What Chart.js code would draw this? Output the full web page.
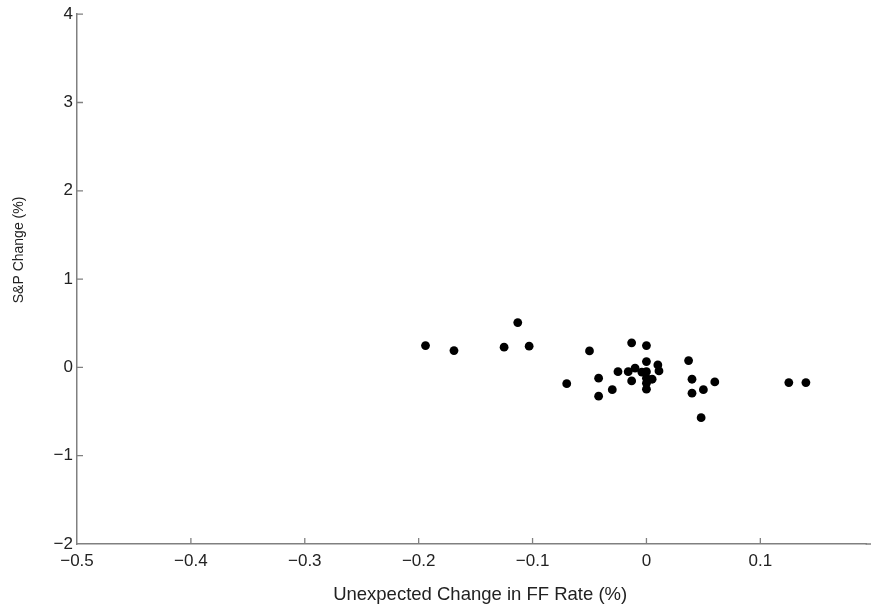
<!DOCTYPE html>
<html>
<head>
<meta charset="utf-8">
<script src="https://cdn.jsdelivr.net/npm/chart.js@4.4.1/dist/chart.umd.min.js"></script>
<style>
html,body{margin:0;padding:0;background:#fff;overflow:hidden;}
#wrap{width:871px;height:607px;position:relative;}
</style>
</head>
<body>
<div id="wrap"><canvas id="c"></canvas></div>
<script>
const xValues = [-0.194,-0.169,-0.125,-0.113,-0.103,-0.070,-0.050,-0.042,-0.042,-0.030,-0.025,-0.016,-0.013,-0.010,-0.013,-0.004,0.000,0.000,0.000,0.000,0.000,0.000,0.005,0.010,0.011,0.037,0.040,0.040,0.050,0.060,0.048,0.125,0.140];
const yValues = [0.247,0.19,0.229,0.508,0.240,-0.184,0.187,-0.122,-0.326,-0.252,-0.048,-0.048,0.278,-0.009,-0.153,-0.054,0.247,0.066,-0.048,-0.122,-0.179,-0.247,-0.134,0.028,-0.04,0.077,-0.134,-0.292,-0.252,-0.164,-0.569,-0.172,-0.172];
const xTicks = [-0.5,-0.4,-0.3,-0.2,-0.1,0,0.1];
const yTicks = [-2,-1,0,1,2,3,4];
const xLabel = 'Unexpected Change in FF Rate (%)';
const yLabel = 'S&P Change (%)';

const points = xValues.map((x,i)=>({x:x,y:yValues[i]}));
const fmt = v => { const s = String(Math.round(v*10)/10); return s.replace('-', '\u2212'); };
const axisColor = '#808080';
const textColor = '#222';
const FONT = "'Liberation Sans', Arial, Helvetica, sans-serif";

const extras = {
  id:'extras',
  afterDraw(chart){
    const ctx = chart.ctx, a = chart.chartArea;
    const xs = chart.scales.x, ys = chart.scales.y;
    ctx.save();
    ctx.strokeStyle = axisColor; ctx.lineWidth = 1.3;
    ctx.beginPath();
    xTicks.forEach(v=>{ if(v===xTicks[0]) return; const p = xs.getPixelForValue(v); ctx.moveTo(p,a.bottom); ctx.lineTo(p,a.bottom-6); });
    yTicks.forEach(v=>{ if(v===yTicks[0]) return; const p = ys.getPixelForValue(v); ctx.moveTo(a.left,p); ctx.lineTo(a.left+6,p); });
    ctx.stroke();
    // extend x axis line to the canvas edge
    ctx.lineWidth = 1.5;
    ctx.beginPath(); ctx.moveTo(a.right - 1, a.bottom); ctx.lineTo(chart.width, a.bottom); ctx.stroke();
    ctx.fillStyle = textColor;
    ctx.textAlign = 'center';
    ctx.textBaseline = 'middle';
    // x axis title
    ctx.font = '18.5px ' + FONT;
    ctx.fillText(xLabel, xs.getPixelForValue(-0.146), 595);
    // y axis title
    ctx.translate(19, ys.getPixelForValue(1.33));
    ctx.rotate(-Math.PI/2);
    ctx.font = '14px ' + FONT;
    ctx.fillText(yLabel, 0, 0);
    ctx.restore();
  }
};

new Chart(document.getElementById('c'), {
  type:'scatter',
  data:{ datasets:[{ data:points, backgroundColor:'#000', borderColor:'#000', pointRadius:4.4, pointHoverRadius:4.4, borderWidth:0 }]},
  options:{
    responsive:true, maintainAspectRatio:false, animation:false,
    layout:{ padding:{ top:14, right:0, left:0, bottom:0 } },
    plugins:{ legend:{display:false}, tooltip:{enabled:false} },
    scales:{
      x:{
        type:'linear', min:-0.5, max:0.1933,
        afterBuildTicks: s => { s.ticks = xTicks.map(v=>({value:v})); },
        afterFit: s => { s.height = 63; },
        grid:{ display:true, drawOnChartArea:false, drawTicks:false },
        border:{ display:true, color:axisColor, width:1.5 },
        ticks:{ color:textColor, font:{family:FONT, size:17}, padding:7, callback: v => fmt(v), maxRotation:0, autoSkip:false }
      },
      y:{
        type:'linear', min:-2, max:4,
        afterBuildTicks: s => { s.ticks = yTicks.map(v=>({value:v})); },
        afterFit: s => { s.width = 77; },
        grid:{ display:true, drawOnChartArea:false, drawTicks:false },
        border:{ display:true, color:axisColor, width:1.5 },
        ticks:{ color:textColor, font:{family:FONT, size:17}, padding:4, callback: v => fmt(v), autoSkip:false }
      }
    }
  },
  plugins:[extras]
});
</script>
</body>
</html>
